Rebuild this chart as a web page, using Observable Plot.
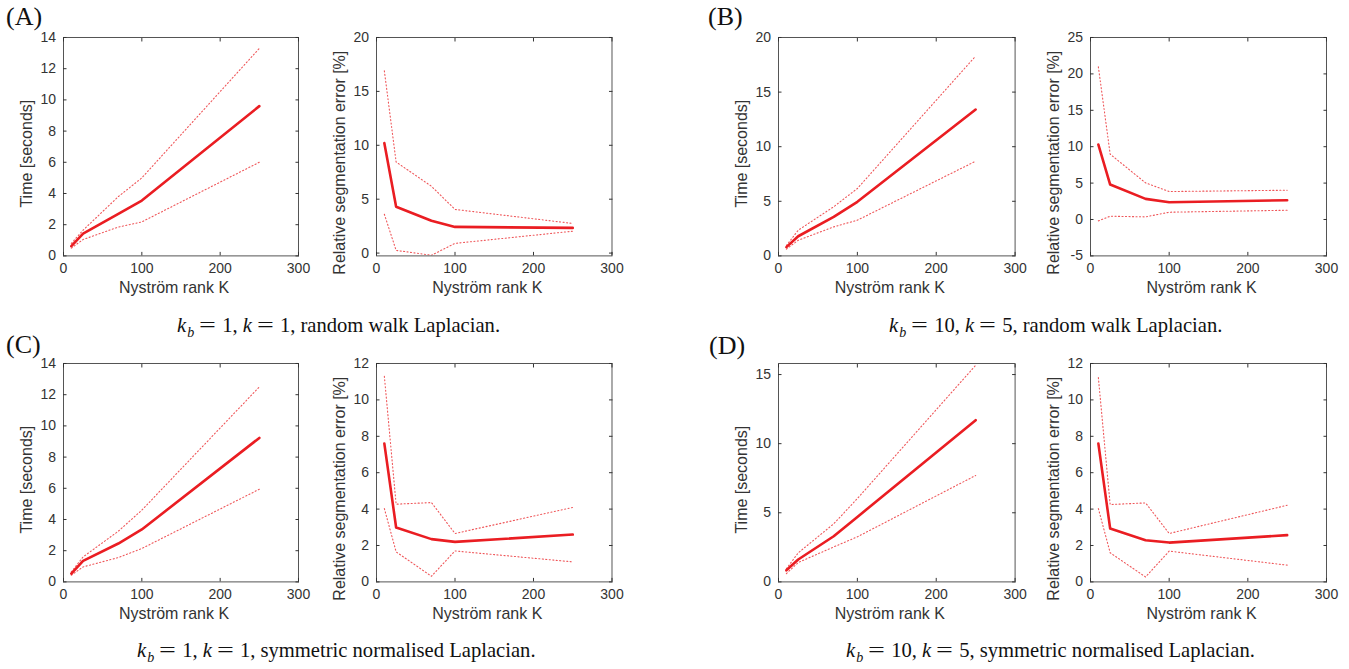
<!DOCTYPE html>
<html><head><meta charset="utf-8">
<script src="https://cdn.jsdelivr.net/npm/d3@7"></script>
<script src="https://cdn.jsdelivr.net/npm/@observablehq/plot@0.6"></script>
<style>
body{margin:0;background:#fff;}
#root{position:relative;width:1349px;height:669px;overflow:hidden;background:#fff;}
.panel{position:absolute;}
.tag{position:absolute;font-family:"Liberation Serif";font-size:26px;line-height:1;color:#111;}
.cap{position:absolute;font-family:"Liberation Serif";font-size:20.6px;line-height:1;white-space:nowrap;color:#111;}
.cap i{font-style:italic;}
.cap sub{font-size:14px;vertical-align:-5px;font-style:italic;margin-left:1px;line-height:1;}
.cap .eq{display:inline-block;width:17px;text-align:center;transform:scaleX(1.45);margin:0 6px 0 5px;}
</style></head><body><div id="root"></div>
<script>
// ---- data ----
const K = [10, 25, 70, 100, 250];
const xTicks = [0, 100, 200, 300];

const timeA_mean = [0.62, 1.43, 2.7, 3.55, 9.6];
const timeA_hi   = [0.8, 1.65, 3.8, 5.0, 13.3];
const timeA_lo   = [0.5, 1.05, 1.85, 2.18, 6.0];
const errA_mean  = [10.2, 4.3, 3.0, 2.43, 2.34];
const errA_hi    = [16.9, 8.45, 6.2, 4.05, 2.75];
const errA_lo    = [3.6, 0.25, -0.2, 0.9, 2.03];

const timeB_mean = [0.8, 1.8, 3.57, 4.95, 13.4];
const timeB_hi   = [0.95, 2.35, 4.5, 6.17, 18.3];
const timeB_lo   = [0.62, 1.43, 2.66, 3.27, 8.67];
const errB_mean  = [10.3, 4.8, 2.83, 2.37, 2.65];
const errB_hi    = [20.97, 8.97, 5.03, 3.84, 4.02];
const errB_lo    = [-0.19, 0.45, 0.36, 1.0, 1.27];

const timeC_mean = [0.53, 1.35, 2.46, 3.36, 9.23];
const timeC_hi   = [0.64, 1.6, 3.25, 4.6, 12.5];
const timeC_lo   = [0.43, 0.96, 1.56, 2.14, 5.94];
const errC_mean  = [7.6, 2.99, 2.35, 2.2, 2.6];
const errC_hi    = [11.3, 4.27, 4.36, 2.66, 4.09];
const errC_lo    = [4.03, 1.65, 0.31, 1.7, 1.1];

const timeD_mean = [0.84, 1.62, 3.3, 4.7, 11.7];
const timeD_hi   = [0.95, 2.1, 4.2, 6.03, 15.67];
const timeD_lo   = [0.6, 1.4, 2.53, 3.26, 7.7];
const errD_mean  = [7.6, 2.93, 2.29, 2.16, 2.57];
const errD_hi    = [11.23, 4.25, 4.34, 2.66, 4.21];
const errD_lo    = [4.03, 1.6, 0.27, 1.69, 0.92];

const yTicksTime14 = [0, 2, 4, 6, 8, 10, 12, 14];
const yTicks20 = [0, 5, 10, 15, 20];
const yTicksB2 = [-5, 0, 5, 10, 15, 20, 25];
const yTicks12 = [0, 2, 4, 6, 8, 10, 12];
const yTicksD1 = [0, 5, 10, 15];

const panelTags = ["(A)", "(B)", "(C)", "(D)"];
const capKb = [1, 10, 1, 10];
const capK = [1, 5, 1, 5];
const capText = ["random walk Laplacian.", "random walk Laplacian.",
                 "symmetric normalised Laplacian.", "symmetric normalised Laplacian."];
const xLabel = "Nyström rank K";
const timeLabel = "Time [seconds]";
const errLabel = "Relative segmentation error [%]";

// ---- drawing ----
const root = document.getElementById("root");
const RED = "#ea1d22";

function panel(cfg) {
  const mL = 60, mR = 14, mT = 8, mB = 44;
  const W = cfg.R - cfg.L, H = cfg.B - cfg.T;
  const rows = K.map((k, i) => ({K: k, mean: cfg.mean[i], hi: cfg.hi[i], lo: cfg.lo[i]}));
  const fmt = d => String(d);
  const dotted = {stroke: RED, strokeWidth: 1.1, strokeOpacity: 0.75, strokeDasharray: "1.1,2.4", clip: true};
  const svg = Plot.plot({
    width: W + mL + mR, height: H + mT + mB,
    marginLeft: mL, marginRight: mR, marginTop: mT, marginBottom: mB,
    style: {fontFamily: "Liberation Sans", fontSize: "14px", color: "#333", background: "transparent", overflow: "visible"},
    x: {domain: [0, 300]},
    y: {domain: cfg.yDomain},
    marks: [
      Plot.line(rows, {x: "K", y: "hi", ...dotted}),
      Plot.line(rows, {x: "K", y: "lo", ...dotted}),
      Plot.line(rows, {x: "K", y: "mean", stroke: RED, strokeWidth: 2.6, clip: true}),
      Plot.frame({stroke: "#555", strokeWidth: 1}),
      Plot.axisX({anchor: "bottom", ticks: xTicks, tickSize: -3.5, tickPadding: 11, tickFormat: fmt, label: null}),
      Plot.axisX({anchor: "top", ticks: xTicks, tickSize: -3.5, tickFormat: () => "", label: null}),
      Plot.axisY({anchor: "left", ticks: cfg.yTicks, tickSize: -3.5, tickPadding: 11, tickFormat: fmt, label: null}),
      Plot.axisY({anchor: "right", ticks: cfg.yTicks, tickSize: -3.5, tickFormat: () => "", label: null}),
      Plot.text([cfg.ylabel], {text: d => d, frameAnchor: "left", textAnchor: "middle", lineAnchor: "middle", rotate: -90, dx: -37, dy: cfg.ldy, fontSize: 16, fill: "#333"}),
      Plot.text([xLabel], {text: d => d, frameAnchor: "bottom", textAnchor: "middle", lineAnchor: "middle", dy: 32, dx: -7, fontSize: 16, fill: "#333"})
    ]
  });
  svg.classList.add("panel");
  svg.style.left = (cfg.L - mL) + "px";
  svg.style.top = (cfg.T - mT) + "px";
  root.appendChild(svg);
}

const rowT = [37.3, 363.3], rowB = [255.7, 581.7];
const colL = [62.7, 376, 777.7, 1090], colR = [297.7, 611.5, 1014.3, 1326];

const timeSets = [
  [timeA_mean, timeA_hi, timeA_lo, [0, 14], yTicksTime14],
  [timeB_mean, timeB_hi, timeB_lo, [0, 20], yTicks20],
  [timeC_mean, timeC_hi, timeC_lo, [0, 14], yTicksTime14],
  [timeD_mean, timeD_hi, timeD_lo, [0, 15.8], yTicksD1]
];
const errSets = [
  [errA_mean, errA_hi, errA_lo, [-0.26, 20], yTicks20],
  [errB_mean, errB_hi, errB_lo, [-5, 25], yTicksB2],
  [errC_mean, errC_hi, errC_lo, [0, 12], yTicks12],
  [errD_mean, errD_hi, errD_lo, [0, 12], yTicks12]
];

for (let p = 0; p < 4; p++) {
  const r = Math.floor(p / 2), c = p % 2;
  const t = timeSets[p], e = errSets[p];
  panel({L: colL[2*c], R: colR[2*c], T: rowT[r], B: rowB[r], mean: t[0], hi: t[1], lo: t[2], yDomain: t[3], yTicks: t[4], ylabel: timeLabel, ldy: 7});
  panel({L: colL[2*c+1], R: colR[2*c+1], T: rowT[r], B: rowB[r], mean: e[0], hi: e[1], lo: e[2], yDomain: e[3], yTicks: e[4], ylabel: errLabel, ldy: 16});
}

// tags
const tagPos = [[6, 4], [708, 4], [6, 332], [709, 333]];
panelTags.forEach((s, i) => {
  const d = document.createElement("div");
  d.className = "tag"; d.textContent = s;
  d.style.left = tagPos[i][0] + "px"; d.style.top = tagPos[i][1] + "px";
  root.appendChild(d);
});
// captions
const capPos = [[177, 314.5], [889, 314.5], [137, 639.5], [846, 639.5]];
capText.forEach((s, i) => {
  const d = document.createElement("div");
  d.className = "cap";
  d.innerHTML = `<i>k</i><sub>b</sub><span class="eq">=</span>${capKb[i]}, <i>k</i><span class="eq">=</span>${capK[i]}, ${s}`;
  d.style.left = capPos[i][0] + "px"; d.style.top = capPos[i][1] + "px";
  root.appendChild(d);
});
</script></body></html>
